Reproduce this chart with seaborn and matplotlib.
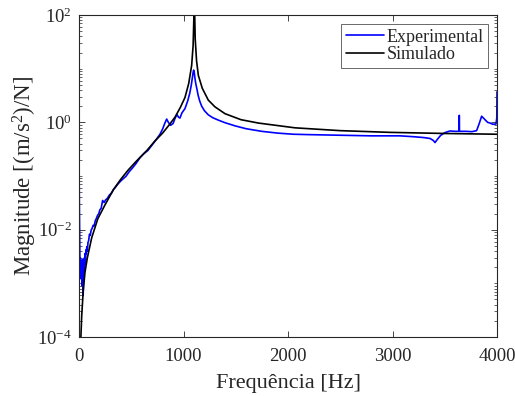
import numpy as np
import pandas as pd
import matplotlib
matplotlib.use("Agg")
import matplotlib.pyplot as plt
import matplotlib.ticker as mticker
import seaborn as sns

# ------------ data ------------
exp_freq = [0, 2, 4, 6, 8, 10, 13, 16, 19, 22, 25, 28, 31, 34, 37, 40, 43, 46, 49,
            52, 55, 58, 62, 66, 70, 75, 80, 86, 92, 100, 108, 116, 125, 135, 145,
            155, 165, 178, 190, 200, 212, 226, 240, 255, 270, 290, 310, 330, 350,
            370, 392, 420, 450, 480, 510, 545, 584, 620, 660, 700, 740, 775, 800,
            820, 839, 855, 876, 900, 920, 937, 952, 966, 985, 1014, 1040, 1060,
            1075, 1085, 1092, 1097, 1103, 1110, 1118, 1126, 1140, 1155, 1174, 1200,
            1237, 1280, 1333, 1400, 1493, 1600, 1748, 1900, 2051, 2200, 2400, 2600,
            2800, 3000, 3072, 3200, 3300, 3360, 3390, 3407, 3425, 3460, 3500, 3518,
            3550, 3600, 3637, 3639, 3641, 3700, 3760, 3805, 3830, 3853, 3880, 3910,
            3933, 3960, 3990, 3998, 4000]
exp_mag = [0.17, 0.06, 0.015, 0.006, 0.0035, 0.0022, 0.0030, 0.0017, 0.0026, 0.0012,
           0.0021, 0.0009, 0.0016, 0.0028, 0.0013, 0.0006, 0.0014, 0.0024, 0.0011,
           0.0030, 0.0022, 0.0036, 0.0027, 0.0042, 0.0035, 0.0048, 0.0040, 0.0058,
           0.0062, 0.0082, 0.0078, 0.0098, 0.0105, 0.012, 0.0118, 0.0145, 0.016,
           0.0185, 0.020, 0.0235, 0.025, 0.035, 0.032, 0.036, 0.038, 0.044, 0.048,
           0.056, 0.062, 0.070, 0.078, 0.088, 0.099, 0.12, 0.14, 0.17, 0.22, 0.26,
           0.30, 0.38, 0.48, 0.60, 0.75, 0.95, 1.15, 1.0, 0.88, 0.95, 1.2, 1.4, 1.25,
           1.2, 1.5, 1.8, 2.5, 3.5, 5.0, 6.8, 8.5, 9.4, 8.5, 6.5, 5.2, 4.4, 3.2, 2.5,
           2.0, 1.65, 1.38, 1.22, 1.10, 0.98, 0.86, 0.76, 0.68, 0.63, 0.60, 0.59,
           0.58, 0.57, 0.56, 0.56, 0.56, 0.54, 0.52, 0.50, 0.46, 0.42, 0.47, 0.57,
           0.64, 0.66, 0.69, 0.68, 0.68, 1.35, 0.68, 0.68, 0.67, 0.70, 0.95, 1.30,
           1.15, 1.0, 0.97, 0.92, 0.93, 1.2, 3.7]

sim_freq = [18, 26, 40, 57, 80, 121, 180, 249, 330, 400, 472, 550, 650, 727, 800,
            860, 919, 970, 1014, 1050, 1078, 1092, 1100, 1103, 1106, 1112, 1125,
            1142, 1180, 1237, 1300, 1397, 1550, 1716, 2067, 2500, 2976, 3500, 4000]
sim_mag = [1.0e-4, 2.5e-4, 7.0e-4, 1.6e-3, 3.0e-3, 7.0e-3, 0.016, 0.029, 0.056,
           0.087, 0.13, 0.19, 0.30, 0.45, 0.63, 0.88, 1.25, 1.9, 2.9, 5.3, 11.5, 27,
           100, 300, 130, 36, 14, 7.5, 4.3, 2.6, 1.95, 1.45, 1.12, 0.97, 0.79, 0.70,
           0.65, 0.62, 0.60]

x_ticks = [0, 1000, 2000, 3000, 4000]

# ------------ style ------------
sns.set_style("ticks")
plt.rcParams["font.family"] = ["Liberation Serif", "DejaVu Serif"]
plt.rcParams["mathtext.fontset"] = "custom"
plt.rcParams["mathtext.rm"] = "Liberation Serif"
plt.rcParams["mathtext.it"] = "Liberation Serif:italic"
plt.rcParams["xtick.direction"] = "in"
plt.rcParams["ytick.direction"] = "in"
plt.rcParams["axes.linewidth"] = 0.8

df_exp = pd.DataFrame({"f": exp_freq, "mag": exp_mag})
df_sim = pd.DataFrame({"f": sim_freq, "mag": sim_mag})

fig = plt.figure(figsize=(5.15, 3.96), dpi=100)
ax = fig.add_axes([79 / 515, 1 - 337 / 396, (497 - 79) / 515, (337 - 15) / 396])

sns.lineplot(data=df_exp, x="f", y="mag", ax=ax, color="#0000ff", lw=1.2,
             sort=False, estimator=None, label="Experimental")
sns.lineplot(data=df_sim, x="f", y="mag", ax=ax, color="black", lw=1.2,
             sort=False, estimator=None, label="Simulado")

ax.set_yscale("log")
ax.set_xlim(0, 4000)
ax.set_ylim(1e-4, 1e2)
ax.set_xticks(x_ticks)
ax.yaxis.set_major_locator(mticker.LogLocator(base=100))
ax.yaxis.set_minor_locator(mticker.LogLocator(base=10, subs=np.arange(1, 10), numticks=20))
ax.yaxis.set_minor_formatter(mticker.NullFormatter())
ax.tick_params(which="both", top=True, right=True, labelsize=13.5, colors="#262626")
ax.tick_params(which="major", length=4, width=0.6)
ax.tick_params(which="minor", length=2, width=0.5)
ax.tick_params(axis="x", which="major", pad=8)
ax.tick_params(axis="y", which="major", pad=5)
for s in ax.spines.values():
    s.set_color("#262626")

ax.set_xlabel("Frequência [Hz]", fontsize=16, color="#262626")
ax.set_ylabel("Magnitude [(m/s$^2$)/N]", fontsize=16.5, color="#262626")
ax.xaxis.set_label_coords(0.5, -0.115)
ax.yaxis.set_label_coords(-0.095, 0.5)

leg = ax.legend(loc="upper right", fontsize=13, frameon=True, fancybox=False,
                edgecolor="#262626", handlelength=2.1, handletextpad=0.15,
                borderpad=0.25, labelspacing=0.05, borderaxespad=0.5)
leg.get_frame().set_linewidth(0.6)

fig.savefig("out.png", dpi=100)
